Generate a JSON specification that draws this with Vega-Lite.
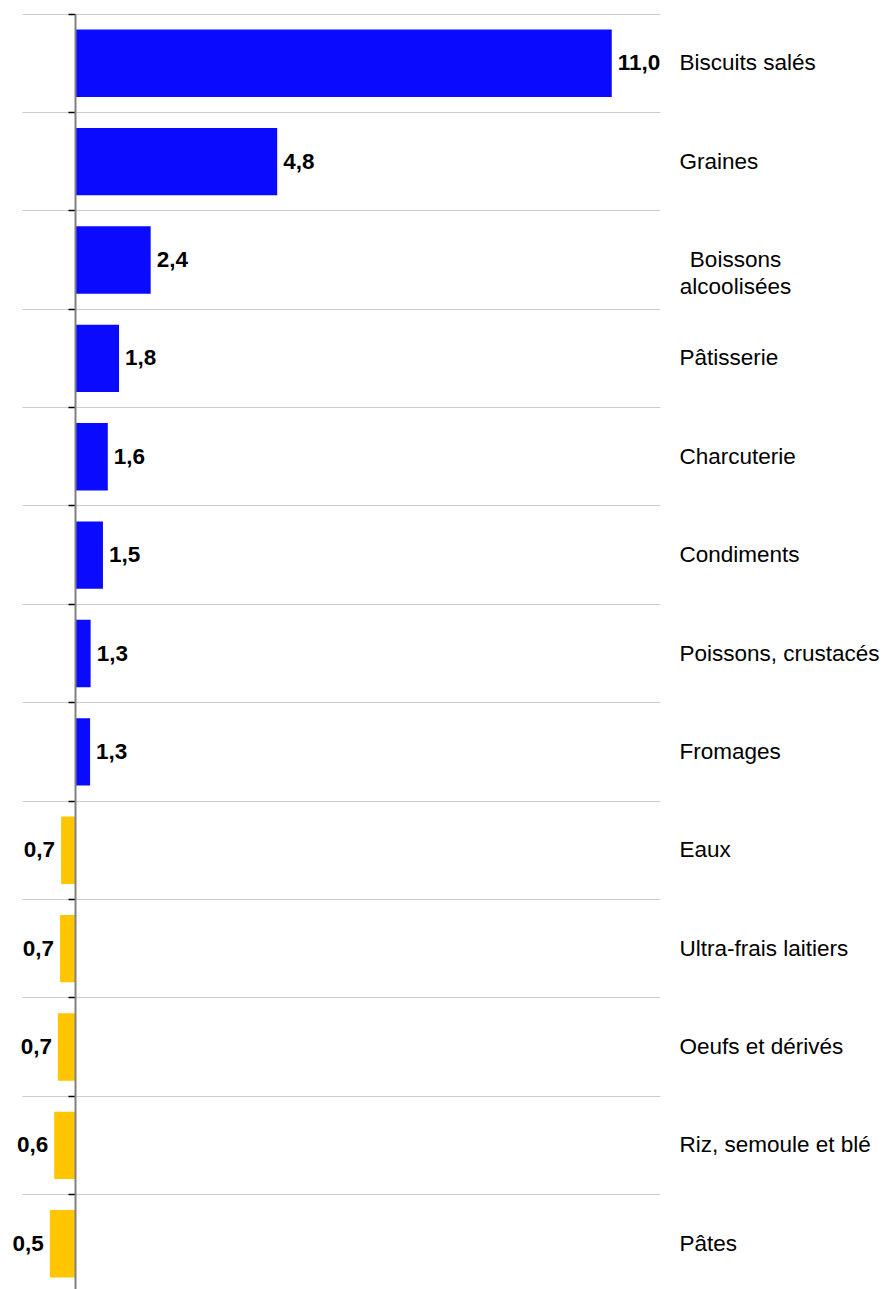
{
  "$schema": "https://vega.github.io/schema/vega-lite/v6.json",
  "width": 638,
  "height": 1279,
  "autosize": "none",
  "padding": {"left": 22, "top": 14, "right": 224, "bottom": 0},
  "background": "white",
  "config": {
    "view": {"stroke": null},
    "font": "Liberation Sans",
    "locale": {"number": {"decimal": ",", "thousands": " ", "grouping": [3], "currency": ["", " €"]}}
  },
  "data": {
    "values": [
      {"categorie": "Biscuits salés", "valeur": 11.0},
      {"categorie": "Graines", "valeur": 4.76},
      {"categorie": "Boissons alcoolisées", "valeur": 2.40},
      {"categorie": "Pâtisserie", "valeur": 1.81},
      {"categorie": "Charcuterie", "valeur": 1.60},
      {"categorie": "Condiments", "valeur": 1.51},
      {"categorie": "Poissons, crustacés", "valeur": 1.28},
      {"categorie": "Fromages", "valeur": 1.27},
      {"categorie": "Eaux", "valeur": 0.73},
      {"categorie": "Ultra-frais laitiers", "valeur": 0.71},
      {"categorie": "Oeufs et dérivés", "valeur": 0.67},
      {"categorie": "Riz, semoule et blé", "valeur": 0.60},
      {"categorie": "Pâtes", "valeur": 0.52}
    ]
  },
  "resolve": {"axis": {"y": "independent"}},
  "layer": [
    {
      "mark": {"type": "bar", "height": {"band": 0.685}},
      "encoding": {
        "x": {"field": "valeur", "type": "quantitative", "scale": {"domain": [0, 11.9], "nice": false, "zero": false}, "axis": null},
        "x2": {"datum": 1},
        "color": {"condition": {"test": "datum.valeur >= 1", "value": "#0a0aff"}, "value": "#ffc600"},
        "y": {
          "field": "categorie", "type": "nominal", "sort": null,
          "scale": {"paddingInner": 0, "paddingOuter": 0, "domain": ["Biscuits salés", "Graines", "Boissons alcoolisées", "Pâtisserie", "Charcuterie", "Condiments", "Poissons, crustacés", "Fromages", "Eaux", "Ultra-frais laitiers", "Oeufs et dérivés", "Riz, semoule et blé", "Pâtes"]},
          "axis": {"orient": "left", "offset": -53, "labels": false, "title": null, "grid": true, "gridColor": "#cccccc", "gridWidth": 1, "bandPosition": 0, "ticks": true, "tickSize": 7, "tickColor": "#000000", "tickWidth": 1.5, "domain": true, "domainColor": "#808080", "domainWidth": 2, "zindex": 1}
        }
      }
    },
    {
      "transform": [{"filter": "datum.valeur >= 1"}],
      "mark": {"type": "text", "align": "left", "baseline": "middle", "dx": 6, "fontSize": 22.5, "fontWeight": "bold", "font": "Liberation Sans", "color": "#000000"},
      "encoding": {
        "x": {"field": "valeur", "type": "quantitative", "axis": null},
        "text": {"field": "valeur", "type": "quantitative", "format": ".1f"},
        "y": {
          "field": "categorie", "type": "nominal", "sort": null,
          "axis": {"orient": "right", "title": null, "grid": false, "ticks": false, "tickSize": 0, "domain": false, "bandPosition": 0.5,
            "labelAlign": {"condition": {"test": "datum.value === 'Boissons alcoolisées'", "value": "center"}, "value": "left"},
            "labelPadding": {"condition": {"test": "datum.value === 'Boissons alcoolisées'", "value": 75}, "value": 19},
            "labelBaseline": "middle", "labelFontSize": 22.5, "labelFont": "Liberation Sans", "labelColor": "#000000", "labelLimit": 400, "labelLineHeight": 27,
            "labelExpr": "datum.value === 'Boissons alcoolisées' ? ['Boissons', 'alcoolisées'] : datum.label"}
        }
      }
    },
    {
      "transform": [{"filter": "datum.valeur < 1"}],
      "mark": {"type": "text", "align": "right", "baseline": "middle", "dx": -6, "fontSize": 22.5, "fontWeight": "bold", "font": "Liberation Sans", "color": "#000000"},
      "encoding": {
        "x": {"field": "valeur", "type": "quantitative", "axis": null},
        "text": {"field": "valeur", "type": "quantitative", "format": ".1f"},
        "y": {"field": "categorie", "type": "nominal", "sort": null, "axis": null}
      }
    }
  ]
}
